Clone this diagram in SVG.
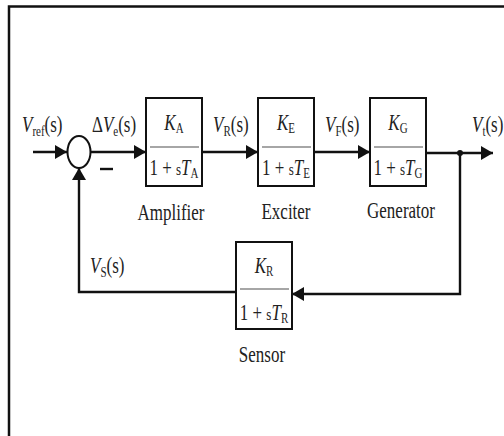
<svg xmlns="http://www.w3.org/2000/svg" width="504" height="436" viewBox="0 0 504 436">
<style>
.t{font-family:"Liberation Serif","Times New Roman",serif;font-size:17px;fill:#222}
.i{font-style:italic}
.b{fill:#fff;stroke:#111;stroke-width:2}
.f{stroke:#888;stroke-width:1.6}
.w{fill:none;stroke:#111;stroke-width:2.4}
</style>
<defs>
<marker id="ah" markerWidth="13" markerHeight="14" refX="12" refY="7" orient="auto" markerUnits="userSpaceOnUse">
<path d="M0,0 L12,7 L0,14 Z" fill="#111"/>
</marker>
</defs>
<rect width="504" height="436" fill="#fff"/>
<path d="M9,436 V6.5 H504" fill="none" stroke="#111" stroke-width="2.5"/>

<g id="connectors">
<line class="w" x1="33" y1="152" x2="67" y2="152" marker-end="url(#ah)"/>
<line class="w" x1="90" y1="152" x2="146" y2="152" marker-end="url(#ah)"/>
<line class="w" x1="202" y1="152" x2="258" y2="152" marker-end="url(#ah)"/>
<line class="w" x1="314" y1="152" x2="370" y2="152" marker-end="url(#ah)"/>
<line class="w" x1="426" y1="153" x2="493" y2="153" marker-end="url(#ah)"/>
<circle cx="460" cy="153" r="3" fill="#111"/>
<polyline class="w" points="460,153 460,294 292,294" marker-end="url(#ah)"/>
<polyline class="w" points="236,292 79,292 79,168" marker-end="url(#ah)"/>
</g>

<g id="sum">
<ellipse cx="79" cy="152" rx="11.5" ry="16" fill="#fff" stroke="#111" stroke-width="2"/>
<line x1="100" y1="169" x2="113" y2="169" stroke="#111" stroke-width="2.4"/>
</g>

<g id="labels">
<text class="t" transform="translate(22,132) scale(1,1.35)"><tspan class="i">V</tspan><tspan font-size="11" dy="3">ref</tspan><tspan dy="-3">(s)</tspan></text>
<text class="t" transform="translate(92,132) scale(1,1.35)">Δ<tspan class="i">V</tspan><tspan font-size="11" dy="3">e</tspan><tspan dy="-3">(s)</tspan></text>
<text class="t" transform="translate(213,132) scale(1,1.35)"><tspan class="i">V</tspan><tspan font-size="11" dy="3">R</tspan><tspan dy="-3">(s)</tspan></text>
<text class="t" transform="translate(325,132) scale(1,1.35)"><tspan class="i">V</tspan><tspan font-size="11" dy="3">F</tspan><tspan dy="-3">(s)</tspan></text>
<text class="t" transform="translate(472,132) scale(1,1.35)"><tspan class="i">V</tspan><tspan font-size="11" dy="3">t</tspan><tspan dy="-3">(s)</tspan></text>
<text class="t" transform="translate(90,273) scale(1,1.35)"><tspan class="i">V</tspan><tspan font-size="11" dy="3">S</tspan><tspan dy="-3">(s)</tspan></text>
</g>

<g id="amplifier">
<rect class="b" x="146" y="98" width="56" height="88"/>
<line class="f" x1="150" y1="147" x2="199" y2="147"/>
<text class="t" text-anchor="middle" transform="translate(174,130) scale(1,1.35)"><tspan class="i">K</tspan><tspan font-size="11" dy="2">A</tspan></text>
<text class="t" text-anchor="middle" transform="translate(174,175) scale(1,1.35)">1 + <tspan font-size="13">s</tspan><tspan class="i">T</tspan><tspan font-size="11" dy="2">A</tspan></text>
<text class="t" text-anchor="middle" transform="translate(171,220) scale(1,1.35)">Amplifier</text>
</g>

<g id="exciter">
<rect class="b" x="258" y="98" width="56" height="88"/>
<line class="f" x1="262" y1="147" x2="311" y2="147"/>
<text class="t" text-anchor="middle" transform="translate(286,130) scale(1,1.35)"><tspan class="i">K</tspan><tspan font-size="11" dy="2">E</tspan></text>
<text class="t" text-anchor="middle" transform="translate(286,175) scale(1,1.35)">1 + <tspan font-size="13">s</tspan><tspan class="i">T</tspan><tspan font-size="11" dy="2">E</tspan></text>
<text class="t" text-anchor="middle" transform="translate(286,219) scale(1,1.35)">Exciter</text>
</g>

<g id="generator">
<rect class="b" x="370" y="98" width="56" height="88"/>
<line class="f" x1="374" y1="147" x2="423" y2="147"/>
<text class="t" text-anchor="middle" transform="translate(398,130) scale(1,1.35)"><tspan class="i">K</tspan><tspan font-size="11" dy="2">G</tspan></text>
<text class="t" text-anchor="middle" transform="translate(398,175) scale(1,1.35)">1 + <tspan font-size="13">s</tspan><tspan class="i">T</tspan><tspan font-size="11" dy="2">G</tspan></text>
<text class="t" text-anchor="middle" transform="translate(401,218) scale(1,1.35)">Generator</text>
</g>

<g id="sensor">
<rect class="b" x="236" y="242" width="56" height="87"/>
<line class="f" x1="240" y1="289" x2="289" y2="289"/>
<text class="t" text-anchor="middle" transform="translate(264,273) scale(1,1.35)"><tspan class="i">K</tspan><tspan font-size="11" dy="2">R</tspan></text>
<text class="t" text-anchor="middle" transform="translate(264,320) scale(1,1.35)">1 + <tspan font-size="13">s</tspan><tspan class="i">T</tspan><tspan font-size="11" dy="2">R</tspan></text>
<text class="t" text-anchor="middle" transform="translate(262,362) scale(1,1.35)">Sensor</text>
</g>
</svg>
